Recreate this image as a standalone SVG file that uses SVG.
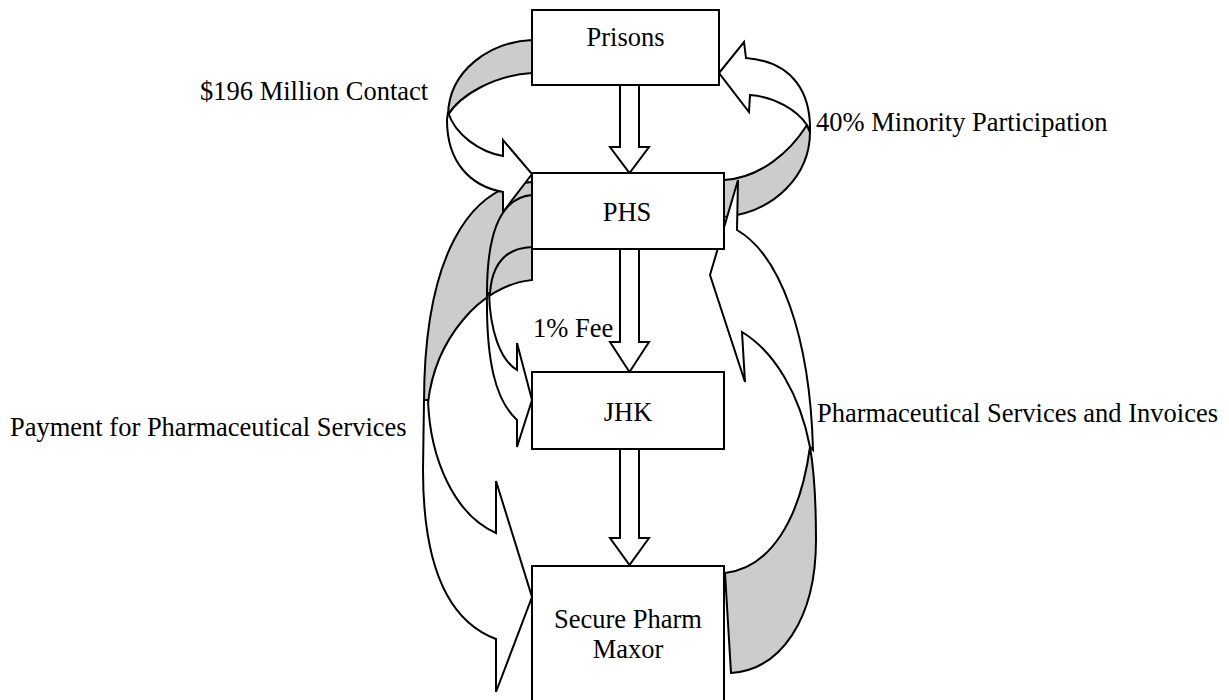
<svg xmlns="http://www.w3.org/2000/svg" width="1229" height="700" viewBox="0 0 1229 700">
<style>
.box{fill:#fff;stroke:#000;stroke-width:2}
.back{fill:#cccccc;stroke:#000;stroke-width:2;stroke-linejoin:miter}
.front{fill:#fff;stroke:#000;stroke-width:2;stroke-linejoin:miter}
.lbl{font-family:"Liberation Serif","Times New Roman",serif;font-size:26.5px;fill:#000}
.ctr{text-anchor:middle}
</style>
<rect width="1229" height="700" fill="#fff"/>
<g id="connectors">
  <!-- Payment for Pharmaceutical Services (PHS -> Secure Pharm Maxor) -->
  <g id="arrow-payment">
    <path class="back" d="M532,182 C470,186 424,255 424,403 L428,403 C435,340 480,285 532,280 Z"/>
    <path class="front" d="M428,400 C430,460 455,515 496,533 L496,481 L532,597 L496,692 L496,639 C445,620 423,560 423,470 L424,400 Z"/>
  </g>
  <!-- PHS -> JHK curved -->
  <g id="arrow-phs-jhk">
    <path class="back" d="M532,195 C505,197 487,225 487,293 L490,293 C492,265 505,248 532,247 Z"/>
    <path class="front" d="M489,293 C490,330 500,360 517,370 L517,343 L532,400 L517,447 L517,420 C495,400 486,360 487,293 Z"/>
  </g>
  <!-- $196 Million Contact (Prisons -> PHS) -->
  <g id="arrow-contract">
    <path class="back" d="M532,40 C490,42 449,70 448,115 C460,95 495,75 532,73 Z"/>
    <path class="front" d="M448,112 C455,135 480,152 503,156 L503,140 L532,174 L503,212 L503,192 C470,186 447,162 447,120 Z"/>
  </g>
  <!-- 40% Minority Participation (PHS -> Prisons) -->
  <g id="arrow-minority">
    <path class="back" d="M807,125 C790,152 760,178 724,180 L724,217 C775,212 810,175 810,132 Z"/>
    <path class="front" d="M746,58 L744,42 L719,73 L749,112 L750,95 C775,97 797,110 807,125 L810,132 C811,95 795,62 746,58 Z"/>
  </g>
  <!-- Pharmaceutical Services and Invoices (Secure Pharm Maxor -> PHS) -->
  <g id="arrow-services">
    <path class="back" d="M810,447 C814,470 816,500 816,540 C816,620 780,670 731,673 L725,573 C770,568 800,520 810,447 Z"/>
    <path class="front" d="M810,447 C800,395 775,352 742,332 L745,382 L710,275 L738,180 L737,230 C780,255 810,335 813,450 Z"/>
  </g>
  <!-- vertical block arrows -->
  <polygon id="arrow-prisons-phs" class="front" points="620,85 639,85 639,147 649,147 629.5,173 610,147 620,147"/>
  <polygon id="arrow-phs-jhk-down" class="front" points="620,249 639,249 639,342 649,342 629.5,372 610,342 620,342"/>
  <polygon id="arrow-jhk-maxor" class="front" points="620,449 639,449 639,538 649,538 629.5,565 610,538 620,538"/>
</g>
<g id="node-prisons">
  <rect class="box" x="532" y="10" width="187" height="75"/>
  <text class="lbl ctr" x="625.5" y="46">Prisons</text>
</g>
<g id="node-phs">
  <rect class="box" x="532" y="173" width="192" height="76"/>
  <text class="lbl ctr" x="627" y="221">PHS</text>
</g>
<g id="node-jhk">
  <rect class="box" x="532" y="372" width="192" height="77"/>
  <text class="lbl ctr" x="628" y="421">JHK</text>
</g>
<g id="node-maxor">
  <rect class="box" x="532" y="566" width="192" height="140"/>
  <text class="lbl ctr" x="628" y="628">Secure Pharm</text>
  <text class="lbl ctr" x="628" y="658">Maxor</text>
</g>
<g id="labels">
  <text class="lbl" x="200" y="100">$196 Million Contact</text>
  <text class="lbl" x="816" y="131">40% Minority Participation</text>
  <text class="lbl" x="533" y="337">1% Fee</text>
  <text class="lbl" x="10" y="436">Payment for Pharmaceutical Services</text>
  <text class="lbl" x="817" y="422">Pharmaceutical Services and Invoices</text>
</g>
</svg>
